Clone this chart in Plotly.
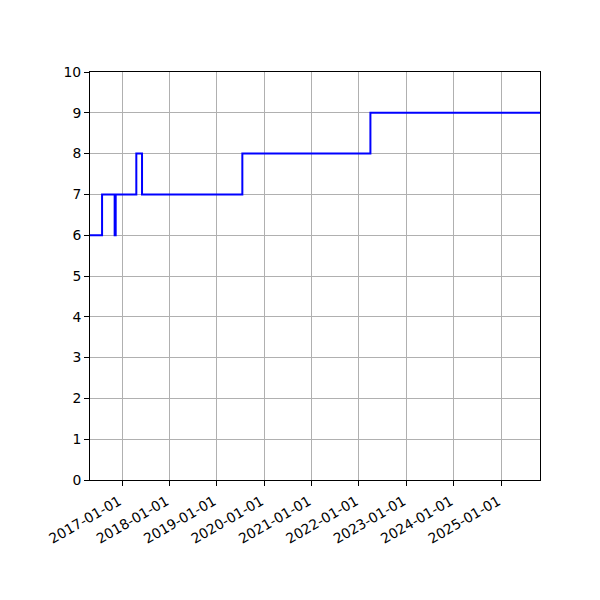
import plotly.graph_objects as go

# change points of the step series (value holds until the next date)
dates = ["2016-04-29", "2016-07-31", "2016-11-05", "2016-11-13", "2017-04-21",
         "2017-06-04", "2019-07-17", "2022-03-30", "2025-10-27"]
values = [6, 7, 6, 7, 8, 7, 8, 9, 9]

y_ticks = list(range(0, 11))

fig = go.Figure(go.Scatter(x=dates, y=values, mode="lines", line_shape="hv",
                           line=dict(color="#0000ff", width=2)))

axis_style = dict(showline=True, linecolor="black", linewidth=1, mirror=True,
                  ticks="outside", ticklen=5, tickcolor="black",
                  showgrid=True, gridcolor="#b0b0b0", gridwidth=1, zeroline=False)

fig.update_xaxes(range=[dates[0], dates[-1]], tickformat="%Y-%m-%d",
                 tick0="2017-01-01", dtick="M12", tickangle=-30,
                 ticklabelshift=-3, ticklabelstandoff=2, **axis_style)
fig.update_yaxes(range=[0, 10], tickvals=y_ticks, **axis_style)

# the page body adds 8px around the plot, so margins are shifted by that
fig.update_layout(width=600, height=600, showlegend=False,
                  plot_bgcolor="white", paper_bgcolor="white",
                  font=dict(family="DejaVu Sans", size=13.9, color="black"),
                  margin=dict(l=82, r=68, t=64, b=128))
fig.write_html("out.html")
